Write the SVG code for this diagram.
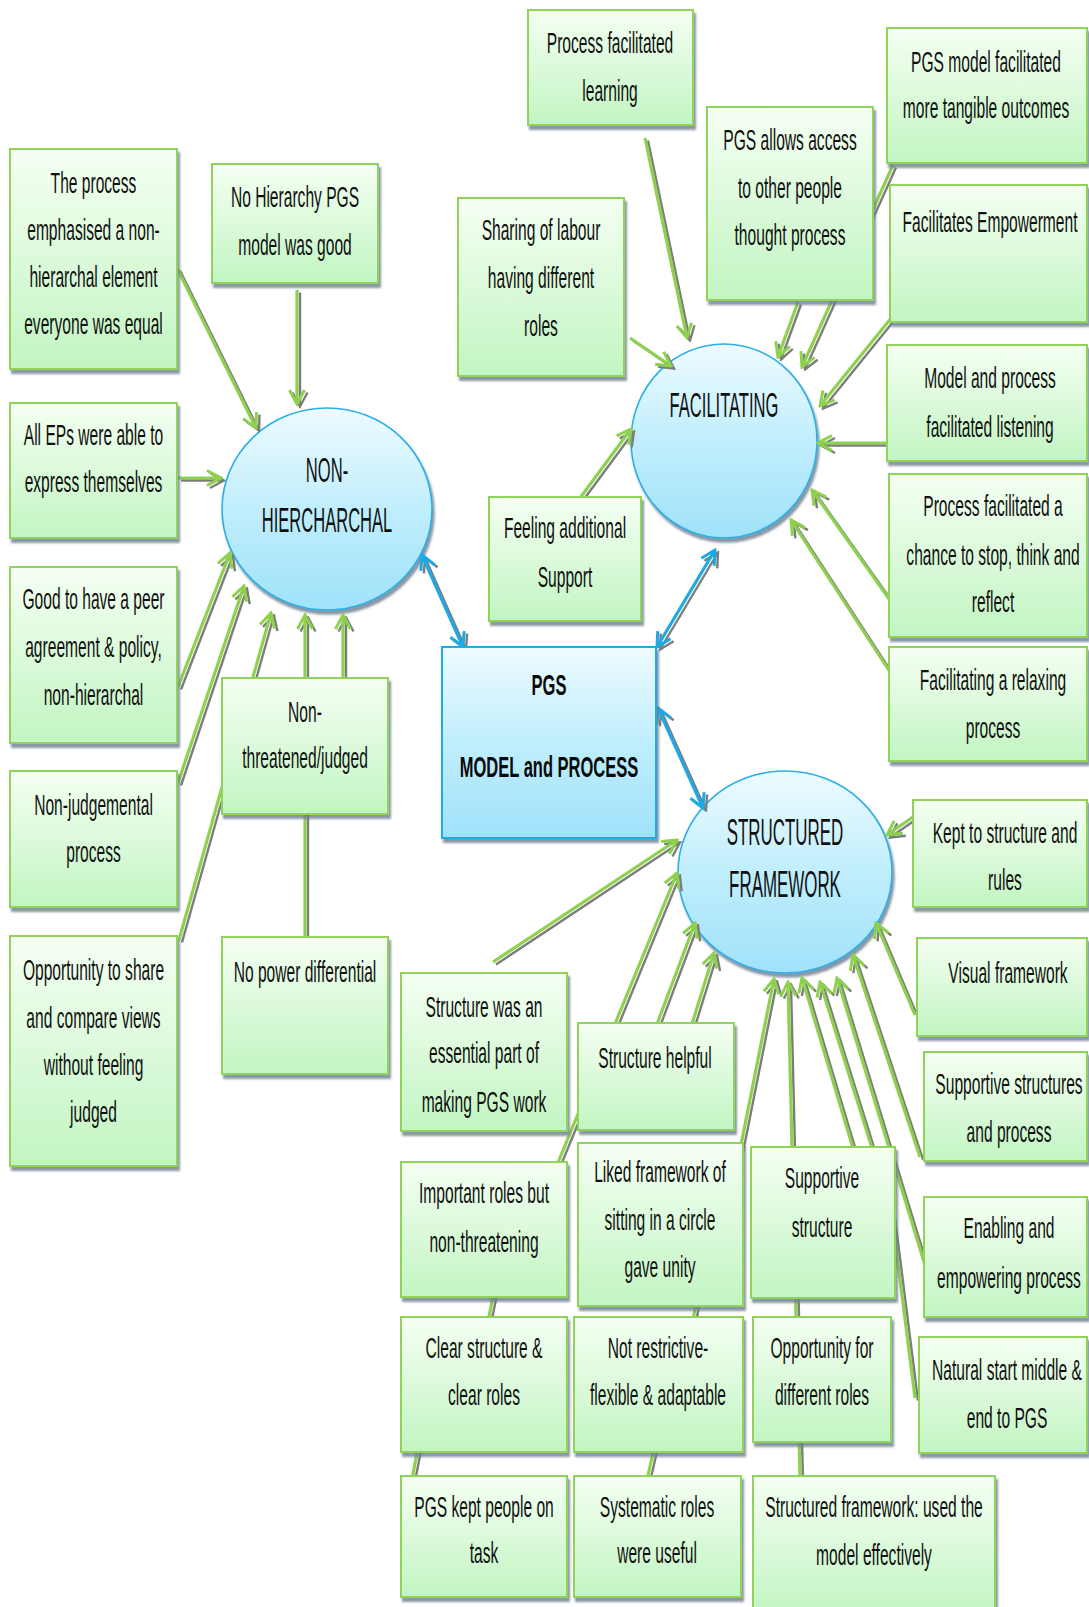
<svg xmlns="http://www.w3.org/2000/svg" width="1089" height="1607" viewBox="0 0 1089 1607">
<style>
  .box { fill: url(#gGreen); stroke: #8fd35a; stroke-width: 2; filter: url(#drop); }
  .oval { fill: url(#gBlue); stroke: #2ab0e6; stroke-width: 1.6; filter: url(#drop); }
  .core { fill: url(#gBlue); stroke: #1eace6; stroke-width: 2; filter: url(#drop); }
  .t { font-family: "Liberation Sans", Arial, sans-serif; font-size: 30px; fill: #111111; text-anchor: middle; }
  .te { font-family: "Liberation Sans", Arial, sans-serif; font-size: 36px; fill: #111111; text-anchor: middle; }
  .tb { font-family: "Liberation Sans", Arial, sans-serif; font-size: 30px; font-weight: bold; fill: #0a0a0a; text-anchor: middle; }
  .sh { fill: none; stroke: #7d7d7d; stroke-width: 2.4; }
  .gl { fill: none; stroke: #8dd14f; stroke-width: 3.2; }
  .bl { fill: none; stroke: #1ea9e4; stroke-width: 3.2; }
</style>
<defs>
  <linearGradient id="gGreen" x1="0" y1="0" x2="0" y2="1">
    <stop offset="0" stop-color="#f5fff3"/>
    <stop offset="1" stop-color="#c2f5c2"/>
  </linearGradient>
  <linearGradient id="gBlue" x1="0" y1="0" x2="0" y2="1">
    <stop offset="0" stop-color="#eefbff"/>
    <stop offset="0.5" stop-color="#c0eefc"/>
    <stop offset="1" stop-color="#a0e2fa"/>
  </linearGradient>
  <filter id="drop" x="-5%" y="-5%" width="115%" height="120%">
    <feDropShadow dx="2" dy="4" stdDeviation="1.2" flood-color="#6d7d8f" flood-opacity="0.8"/>
  </filter>
  <marker id="tipG" viewBox="0 0 18 18" refX="16" refY="9" markerWidth="18" markerHeight="18" markerUnits="userSpaceOnUse" orient="auto-start-reverse">
    <path d="M2,1.5 L16,9 L2,16.5" fill="none" stroke="#8dd14f" stroke-width="3"/>
  </marker>
  <marker id="tipS" viewBox="0 0 18 18" refX="16" refY="9" markerWidth="18" markerHeight="18" markerUnits="userSpaceOnUse" orient="auto-start-reverse">
    <path d="M2,1.5 L16,9 L2,16.5" fill="none" stroke="#7d7d7d" stroke-width="2.4"/>
  </marker>
  <marker id="tipB" viewBox="0 0 18 18" refX="16" refY="9" markerWidth="18" markerHeight="18" markerUnits="userSpaceOnUse" orient="auto-start-reverse">
    <path d="M2,1.5 L16,9 L2,16.5" fill="none" stroke="#1ea9e4" stroke-width="3"/>
  </marker>
</defs>

<rect width="1089" height="1607" fill="#ffffff"/>

<!-- theme ellipses -->
<g id="n-nonhierarchal">
  <ellipse class="oval" cx="327" cy="509" rx="105" ry="101"/>
  <text class="te" transform="matrix(0.46 0 0 1 327 0)"><tspan x="0" y="482">NON-</tspan><tspan x="0" y="532">HIERCHARCHAL</tspan></text>
</g>
<g id="n-facilitating">
  <ellipse class="oval" cx="724" cy="441" rx="93" ry="97"/>
  <text class="te" transform="matrix(0.46 0 0 1 724 0)"><tspan x="0" y="417">FACILITATING</tspan></text>
</g>
<g id="n-structured">
  <ellipse class="oval" cx="785" cy="872" rx="107" ry="101"/>
  <text class="te" transform="matrix(0.47 0 0 1 785 0)"><tspan x="0" y="845">STRUCTURED</tspan><tspan x="0" y="897">FRAMEWORK</tspan></text>
</g>

<!-- connectors: grey shadow pass, then coloured pass -->
<g id="connectors">
  <g class="shadow" transform="translate(3,2.5)">
    <g class="sh" marker-end="url(#tipS)">
      <path d="M177,268 L256,428"/>
      <path d="M297,290 L297,404"/>
      <path d="M178,478 L221,478"/>
      <path d="M178,687 L230,553"/>
      <path d="M178,783 L244,586"/>
      <path d="M179,940 L271,613"/>
      <path d="M305,937 L305,615"/>
      <path d="M343,680 L343,615"/>
      <path d="M645,138 L687,338"/>
      <path d="M630,338 L671,366"/>
      <path d="M798,302 L778,357"/>
      <path d="M893,165 L802,367"/>
      <path d="M892,317 L820,406"/>
      <path d="M888,443 L818,443"/>
      <path d="M892,603 L812,490"/>
      <path d="M890,672 L791,520"/>
      <path d="M580,498 L631,429"/>
      <path d="M913,817 L887,835"/>
      <path d="M915,1015 L876,923"/>
      <path d="M493,962 L677,840"/>
      <path d="M557,1165 L677,873"/>
      <path d="M657,1024 L695,923"/>
      <path d="M692,1024 L714,953"/>
      <path d="M737,1165 L774,979"/>
      <path d="M800,1478 L788,982"/>
      <path d="M853,1148 L802,978"/>
      <path d="M872,1148 L820,982"/>
      <path d="M925,1265 L837,978"/>
      <path d="M920,1157 L853,955"/>
    </g>
    <g class="sh">
      <path d="M890,1200 L915,1398"/>
      <path d="M494,1292 L487,1326"/>
      <path d="M698,1292 L692,1326"/>
      <path d="M418,1448 L411,1484"/>
      <path d="M657,1436 L646,1484"/>
    </g>
    <g class="sh" marker-start="url(#tipS)" marker-end="url(#tipS)">
      <path d="M422,555 L463,647"/>
      <path d="M715,550 L657,647"/>
      <path d="M658,708 L703,808"/>
    </g>
  </g>
  <g class="gl" marker-end="url(#tipG)">
    <path d="M177,268 L256,428"/>
    <path d="M297,290 L297,404"/>
    <path d="M178,478 L221,478"/>
    <path d="M178,687 L230,553"/>
    <path d="M178,783 L244,586"/>
    <path d="M179,940 L271,613"/>
    <path d="M305,937 L305,615"/>
    <path d="M343,680 L343,615"/>
    <path d="M645,138 L687,338"/>
    <path d="M630,338 L671,366"/>
    <path d="M798,302 L778,357"/>
    <path d="M893,165 L802,367"/>
    <path d="M892,317 L820,406"/>
    <path d="M888,443 L818,443"/>
    <path d="M892,603 L812,490"/>
    <path d="M890,672 L791,520"/>
    <path d="M580,498 L631,429"/>
    <path d="M913,817 L887,835"/>
    <path d="M915,1015 L876,923"/>
    <path d="M493,962 L677,840"/>
    <path d="M557,1165 L677,873"/>
    <path d="M657,1024 L695,923"/>
    <path d="M692,1024 L714,953"/>
    <path d="M737,1165 L774,979"/>
    <path d="M800,1478 L788,982"/>
    <path d="M853,1148 L802,978"/>
    <path d="M872,1148 L820,982"/>
    <path d="M925,1265 L837,978"/>
    <path d="M920,1157 L853,955"/>
  </g>
  <g class="gl">
    <path d="M890,1200 L915,1398"/>
    <path d="M494,1292 L487,1326"/>
    <path d="M698,1292 L692,1326"/>
    <path d="M418,1448 L411,1484"/>
    <path d="M657,1436 L646,1484"/>
  </g>
  <g class="bl" marker-start="url(#tipB)" marker-end="url(#tipB)">
    <path d="M422,555 L463,647"/>
    <path d="M715,550 L657,647"/>
    <path d="M658,708 L703,808"/>
  </g>
</g>

<!-- central node -->
<g id="n-pgs">
  <rect class="core" x="442" y="647" width="214" height="191"/>
  <text class="tb" transform="matrix(0.55 0 0 1 549 0)"><tspan x="0" y="695">PGS</tspan><tspan x="0" y="777">MODEL and PROCESS</tspan></text>
</g>

<!-- non-hierarchal statements -->
<g id="n-process-equal">
  <rect class="box" x="10" y="149" width="167" height="220"/>
  <text class="t" transform="matrix(0.52 0 0 1 93.5 0)"><tspan x="0" y="193">The process</tspan><tspan x="0" y="240">emphasised a non-</tspan><tspan x="0" y="287">hierarchal element</tspan><tspan x="0" y="334">everyone was equal</tspan></text>
</g>
<g id="n-no-hierarchy">
  <rect class="box" x="212" y="164" width="166" height="119"/>
  <text class="t" transform="matrix(0.52 0 0 1 295 0)"><tspan x="0" y="207">No Hierarchy PGS</tspan><tspan x="0" y="255">model was good</tspan></text>
</g>
<g id="n-all-eps">
  <rect class="box" x="10" y="403" width="167" height="135"/>
  <text class="t" transform="matrix(0.52 0 0 1 93.5 0)"><tspan x="0" y="445">All EPs were able to</tspan><tspan x="0" y="492">express themselves</tspan></text>
</g>
<g id="n-peer-agreement">
  <rect class="box" x="10" y="567" width="167" height="176"/>
  <text class="t" transform="matrix(0.52 0 0 1 93.5 0)"><tspan x="0" y="609">Good to have a peer</tspan><tspan x="0" y="657">agreement &amp; policy,</tspan><tspan x="0" y="705">non-hierarchal</tspan></text>
</g>
<g id="n-non-judgemental">
  <rect class="box" x="10" y="771" width="167" height="136"/>
  <text class="t" transform="matrix(0.52 0 0 1 93.5 0)"><tspan x="0" y="815">Non-judgemental</tspan><tspan x="0" y="862">process</tspan></text>
</g>
<g id="n-share-views">
  <rect class="box" x="10" y="936" width="167" height="230"/>
  <text class="t" transform="matrix(0.52 0 0 1 93.5 0)"><tspan x="0" y="980">Opportunity to share</tspan><tspan x="0" y="1028">and compare views</tspan><tspan x="0" y="1075">without feeling</tspan><tspan x="0" y="1122">judged</tspan></text>
</g>
<g id="n-non-threatened">
  <rect class="box" x="222" y="678" width="166" height="136"/>
  <text class="t" transform="matrix(0.52 0 0 1 305 0)"><tspan x="0" y="722">Non-</tspan><tspan x="0" y="768">threatened/judged</tspan></text>
</g>
<g id="n-no-power">
  <rect class="box" x="222" y="937" width="166" height="137"/>
  <text class="t" transform="matrix(0.52 0 0 1 305 0)"><tspan x="0" y="982">No power differential</tspan></text>
</g>

<!-- facilitating statements -->
<g id="n-learning">
  <rect class="box" x="528" y="10" width="165" height="115"/>
  <text class="t" transform="matrix(0.52 0 0 1 610 0)"><tspan x="0" y="53">Process facilitated</tspan><tspan x="0" y="101">learning</tspan></text>
</g>
<g id="n-sharing-labour">
  <rect class="box" x="458" y="198" width="166" height="178"/>
  <text class="t" transform="matrix(0.52 0 0 1 541 0)"><tspan x="0" y="240">Sharing of labour</tspan><tspan x="0" y="288">having different</tspan><tspan x="0" y="336">roles</tspan></text>
</g>
<g id="n-access">
  <rect class="box" x="707" y="107" width="166" height="193"/>
  <text class="t" transform="matrix(0.52 0 0 1 790 0)"><tspan x="0" y="150">PGS allows access</tspan><tspan x="0" y="198">to other people</tspan><tspan x="0" y="245">thought process</tspan></text>
</g>
<g id="n-tangible">
  <rect class="box" x="887" y="28" width="200" height="135"/>
  <text class="t" transform="matrix(0.52 0 0 1 986 0)"><tspan x="0" y="72">PGS model facilitated</tspan><tspan x="0" y="118">more tangible outcomes</tspan></text>
</g>
<g id="n-empowerment">
  <rect class="box" x="890" y="185" width="197" height="137"/>
  <text class="t" transform="matrix(0.52 0 0 1 990 0)"><tspan x="0" y="232">Facilitates Empowerment</tspan></text>
</g>
<g id="n-listening">
  <rect class="box" x="887" y="345" width="200" height="116"/>
  <text class="t" transform="matrix(0.52 0 0 1 990 0)"><tspan x="0" y="388">Model and process</tspan><tspan x="0" y="437">facilitated listening</tspan></text>
</g>
<g id="n-reflect">
  <rect class="box" x="889" y="474" width="198" height="163"/>
  <text class="t" transform="matrix(0.52 0 0 1 993 0)"><tspan x="0" y="516">Process facilitated a</tspan><tspan x="0" y="565">chance to stop, think and</tspan><tspan x="0" y="612">reflect</tspan></text>
</g>
<g id="n-relaxing">
  <rect class="box" x="889" y="647" width="198" height="114"/>
  <text class="t" transform="matrix(0.52 0 0 1 993 0)"><tspan x="0" y="690">Facilitating a relaxing</tspan><tspan x="0" y="738">process</tspan></text>
</g>
<g id="n-support">
  <rect class="box" x="489" y="497" width="152" height="124"/>
  <text class="t" transform="matrix(0.52 0 0 1 565 0)"><tspan x="0" y="538">Feeling additional</tspan><tspan x="0" y="587">Support</tspan></text>
</g>

<!-- structured framework statements -->
<g id="n-kept-rules">
  <rect class="box" x="913" y="800" width="174" height="107"/>
  <text class="t" transform="matrix(0.52 0 0 1 1005 0)"><tspan x="0" y="843">Kept to structure and</tspan><tspan x="0" y="890">rules</tspan></text>
</g>
<g id="n-visual">
  <rect class="box" x="917" y="938" width="170" height="98"/>
  <text class="t" transform="matrix(0.52 0 0 1 1008 0)"><tspan x="0" y="983">Visual framework</tspan></text>
</g>
<g id="n-supportive-structures">
  <rect class="box" x="924" y="1052" width="163" height="109"/>
  <text class="t" transform="matrix(0.52 0 0 1 1009 0)"><tspan x="0" y="1094">Supportive structures</tspan><tspan x="0" y="1142">and process</tspan></text>
</g>
<g id="n-enabling">
  <rect class="box" x="924" y="1197" width="163" height="120"/>
  <text class="t" transform="matrix(0.52 0 0 1 1009 0)"><tspan x="0" y="1238">Enabling and</tspan><tspan x="0" y="1288">empowering process</tspan></text>
</g>
<g id="n-natural-start">
  <rect class="box" x="919" y="1337" width="168" height="116"/>
  <text class="t" transform="matrix(0.52 0 0 1 1007 0)"><tspan x="0" y="1380">Natural start middle &amp;</tspan><tspan x="0" y="1428">end to PGS</tspan></text>
</g>
<g id="n-essential">
  <rect class="box" x="401" y="973" width="166" height="158"/>
  <text class="t" transform="matrix(0.52 0 0 1 484 0)"><tspan x="0" y="1017">Structure was an</tspan><tspan x="0" y="1063">essential part of</tspan><tspan x="0" y="1112">making PGS work</tspan></text>
</g>
<g id="n-helpful">
  <rect class="box" x="578" y="1023" width="156" height="107"/>
  <text class="t" transform="matrix(0.52 0 0 1 655 0)"><tspan x="0" y="1068">Structure helpful</tspan></text>
</g>
<g id="n-important-roles">
  <rect class="box" x="401" y="1162" width="166" height="135"/>
  <text class="t" transform="matrix(0.52 0 0 1 484 0)"><tspan x="0" y="1203">Important roles but</tspan><tspan x="0" y="1252">non-threatening</tspan></text>
</g>
<g id="n-circle">
  <rect class="box" x="578" y="1143" width="165" height="163"/>
  <text class="t" transform="matrix(0.52 0 0 1 660 0)"><tspan x="0" y="1182">Liked framework of</tspan><tspan x="0" y="1230">sitting in a circle</tspan><tspan x="0" y="1277">gave unity</tspan></text>
</g>
<g id="n-supportive-structure">
  <rect class="box" x="751" y="1147" width="144" height="151"/>
  <text class="t" transform="matrix(0.52 0 0 1 822 0)"><tspan x="0" y="1188">Supportive</tspan><tspan x="0" y="1237">structure</tspan></text>
</g>
<g id="n-clear-roles">
  <rect class="box" x="401" y="1317" width="166" height="135"/>
  <text class="t" transform="matrix(0.52 0 0 1 484 0)"><tspan x="0" y="1358">Clear structure &amp;</tspan><tspan x="0" y="1405">clear roles</tspan></text>
</g>
<g id="n-flexible">
  <rect class="box" x="574" y="1317" width="169" height="135"/>
  <text class="t" transform="matrix(0.52 0 0 1 658 0)"><tspan x="0" y="1358">Not restrictive-</tspan><tspan x="0" y="1405">flexible &amp; adaptable</tspan></text>
</g>
<g id="n-different-roles">
  <rect class="box" x="753" y="1317" width="138" height="125"/>
  <text class="t" transform="matrix(0.52 0 0 1 822 0)"><tspan x="0" y="1358">Opportunity for</tspan><tspan x="0" y="1405">different roles</tspan></text>
</g>
<g id="n-on-task">
  <rect class="box" x="401" y="1476" width="166" height="121"/>
  <text class="t" transform="matrix(0.52 0 0 1 484 0)"><tspan x="0" y="1517">PGS kept people on</tspan><tspan x="0" y="1563">task</tspan></text>
</g>
<g id="n-systematic">
  <rect class="box" x="574" y="1476" width="167" height="121"/>
  <text class="t" transform="matrix(0.52 0 0 1 657 0)"><tspan x="0" y="1517">Systematic roles</tspan><tspan x="0" y="1563">were useful</tspan></text>
</g>
<g id="n-used-model">
  <rect class="box" x="753" y="1476" width="242" height="140"/>
  <text class="t" transform="matrix(0.52 0 0 1 874 0)"><tspan x="0" y="1517">Structured framework: used the</tspan><tspan x="0" y="1565">model effectively</tspan></text>
</g>
</svg>
